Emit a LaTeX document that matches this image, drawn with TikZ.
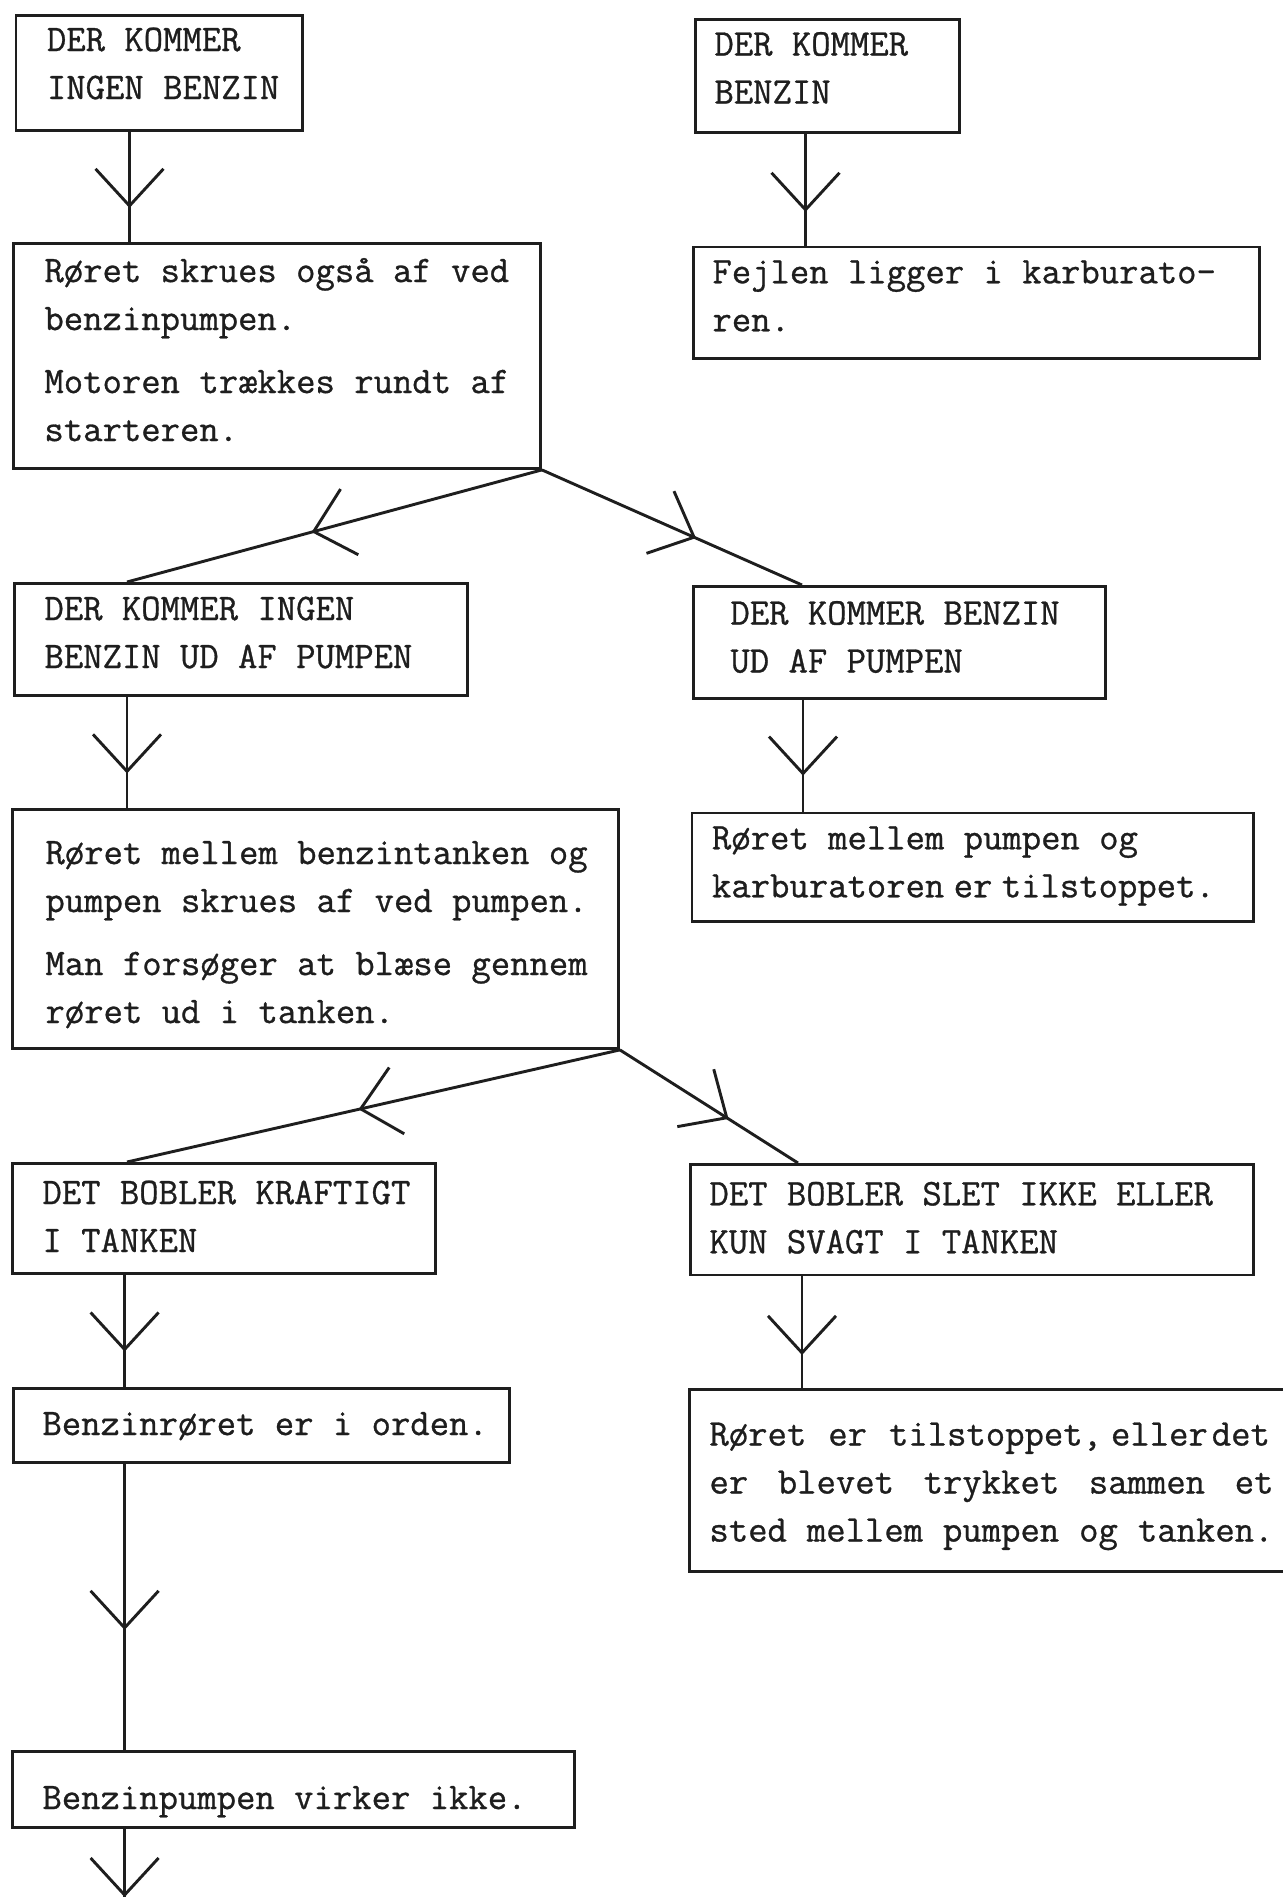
\documentclass[tikz,border=0pt]{standalone}
\usepackage{fontspec}
\newfontfamily\tw[FakeBold=0.8]{Latin Modern Mono}
\usetikzlibrary{decorations.markings,calc}
\definecolor{ink}{RGB}{30,30,30}
\newcommand{\lns}[3][0pt]{\raisebox{#1}[\height][\depth]{\makebox[#2][l]{\begin{tabular}{@{}l@{}}#3\end{tabular}}}}
\tikzset{
  box/.style={draw=ink, line width=2.9pt, anchor=north west, inner ysep=0pt,
    text=ink, font=\tw\fontsize{37.6pt}{48pt}\selectfont},
  conn/.style={draw=ink, line width=2.9pt},
  chev/.style={postaction={decorate}, decoration={markings,
    mark=at position #1 with {\draw[ink, line width=2.9pt] (-37pt,34pt)--(0pt,0pt)--(-37pt,-34pt);}}}
}
\begin{document}
\begin{tikzpicture}[x=1pt,y=-1pt]
\useasboundingbox[fill=white] (0,0) rectangle (1282,1897);
% left column
\node[box, minimum height=115pt, inner xsep=31pt] (A) at (14.5,14.5)
  {\lns[8pt]{224.5pt}{DER KOMMER\\INGEN BENZIN}};
\node[box, minimum height=225pt, inner xsep=31pt] (B) at (12,242)
  {\lns[4pt]{465pt}{Røret skrues også af ved\\benzinpumpen.\\[15pt]Motoren trækkes rundt af\\starteren.}};
\node[box, minimum height=112pt, inner xsep=30pt] (E) at (13,582)
  {\lns[5pt]{392.6pt}{DER KOMMER INGEN\\BENZIN UD AF PUMPEN}};
\node[box, minimum height=239pt, inner xsep=33pt] (G) at (11,808)
  {\lns[-5pt]{540pt}{Røret mellem benzintanken og\\pumpen skrues af ved pumpen.\\[15pt]Man forsøger at blæse gennem\\røret ud i tanken.}};
\node[box, minimum height=110pt, inner xsep=30pt] (I) at (11,1162)
  {\lns{363pt}{DET BOBLER KRAFTIGT\\I TANKEN}};
\node[box, minimum height=74pt, inner xsep=29pt] (K) at (12,1387)
  {\lns{438pt}{Benzinrøret er i orden.}};
\node[box, minimum height=76pt, inner xsep=30pt] (M) at (11,1750)
  {\lns[-10pt]{502pt}{Benzinpumpen virker ikke.}};
% right column
\node[box, minimum height=113pt, inner xsep=19pt] (C) at (694,18)
  {\lns[6pt]{226pt}{DER KOMMER\\BENZIN}};
\node[box, minimum height=111.5pt, inner xsep=19pt] (D) at (692,245.5)
  {\lns[5pt]{528pt}{Fejlen ligger i karburato-\\ren.}};
\node[box, minimum height=112pt, inner xsep=37pt] (F) at (692,585)
  {\lns[3.5pt]{338pt}{DER KOMMER BENZIN\\UD AF PUMPEN}};
\node[box, minimum height=108.5pt, inner xsep=20pt] (H) at (690.5,811.5)
  {\lns[3.5pt]{521.5pt}{Røret mellem pumpen og\\karburatoren\hspace{-10pt} er\hspace{-10pt} tilstoppet.}};
\node[box, minimum height=110.5pt, inner xsep=19pt] (J) at (689,1163)
  {\lns{525pt}{DET BOBLER SLET IKKE ELLER\\KUN SVAGT I TANKEN}};
\node[box, minimum height=182pt, inner xsep=20pt] (L) at (688,1388)
  {\lns[-3.5pt]{580pt}{\hbox to 564pt{Røret\hspace{22pt}er\hspace{22pt}tilstoppet,\hspace{9pt}eller\hspace{4pt}det}\\
   \hbox to 564pt{er\hfill blevet\hfill trykket\hfill sammen\hfill et}\\
   \hbox to 564pt{sted\hfill mellem\hfill pumpen\hfill og\hfill tanken.}}};
\coordinate (end) at (124.6,1897);
% connectors
\draw[conn, chev=0.67] ([xshift=115pt]A.south west) -- ([xshift=115pt]A.south west |- B.north);
\draw[conn, chev=0.68] ([xshift=111.5pt]C.south west) -- ([xshift=111.5pt]C.south west |- D.north);
\draw[conn, chev=0.55] (B.south east) -- ([xshift=114pt]E.north west);
\draw[conn, chev=0.585] (B.south east) -- ([xshift=110pt]F.north west);
\draw[conn, chev=0.67] ([xshift=114pt]E.south west) -- ([xshift=114pt]E.south west |- G.north);
\draw[conn, chev=0.66] ([xshift=111pt]F.south west) -- ([xshift=111pt]F.south west |- H.north);
\draw[conn, chev=0.526] (G.south east) -- ([xshift=116pt]I.north west);
\draw[conn, chev=0.6] (G.south east) -- ([xshift=109pt]J.north west);
\draw[conn, chev=0.665] ([xshift=113.6pt]I.south west) -- ([xshift=113.6pt]I.south west |- K.north);
\draw[conn, chev=0.685] ([xshift=113pt]J.south west) -- ([xshift=113pt]J.south west |- L.north);
\draw[conn, chev=0.573] ([xshift=112.6pt]K.south west) -- ([xshift=112.6pt]K.south west |- M.north);
\draw[conn, chev=0.97] ([xshift=113.6pt]M.south west) -- ([xshift=113.6pt]M.south west |- end);
\end{tikzpicture}
\end{document}
